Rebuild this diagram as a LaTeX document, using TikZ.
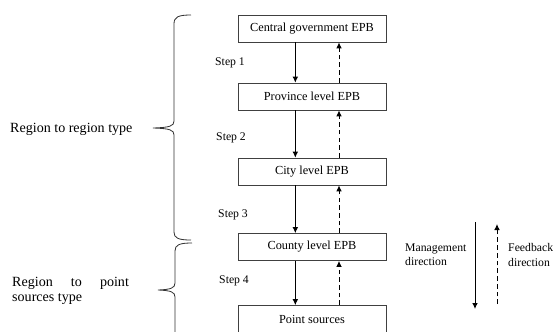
\documentclass[tikz,border=0pt]{standalone}
\usepackage{fontspec}
\setmainfont{Liberation Serif}
\usetikzlibrary{arrows.meta}
\tikzset{
    level/.style={draw=black!75, line width=0.6pt, minimum width=4.44cm, minimum height=0.81cm,
        inner sep=0pt, font=\fontsize{10.5}{12}\selectfont},
    mgmt/.style={line width=0.8pt, -{Latex[length=1.8mm, width=1.7mm]}},
    feedback/.style={line width=0.8pt, dash pattern=on 4pt off 2.6pt, -{Latex[length=1.8mm, width=1.7mm]}},
    steplabel/.style={anchor=west, inner sep=0pt, font=\fontsize{10}{12}\selectfont},
    sidelabel/.style={anchor=west, inner sep=0pt, font=\fontsize{12}{13}\selectfont},
    bracket/.style={line width=0.7pt, black!80},
    common settings/.style={
        x=0.03cm,
        y=-0.03cm
    }
}
\begin{document}
\begin{tikzpicture}[common settings]
    \useasboundingbox (0,0) rectangle (553,331);

    \def\cx{312}   % centre of the level boxes
    \def\sx{-0.5cm}  % shift of the management arrows
    \def\fx{0.81cm}  % shift of the feedback arrows

    % Levels
    \node[level] (central) at (\cx, 28.5) {Central government EPB};
    \node[level] (province) at (\cx, 96.5) {Province level EPB};
    \node[level] (city) at (\cx, 171.5) {City level EPB};
    \node[level] (county) at (\cx, 247) {County level EPB};
    \node[level] (point) at (\cx, 319) {Point sources};

    % Management (down) and feedback (up) between levels
    \foreach \a/\b in {central/province, province/city, city/county, county/point}{
        \draw[mgmt] ([xshift=\sx]\a.south) -- ([xshift=\sx]\b.north);
        \draw[feedback] ([xshift=\fx]\b.north) -- ([xshift=\fx]\a.south);
    }

    % Steps
    \node[steplabel] (s1) at (215, 63) {Step 1};
    \node[steplabel] (s2) at (216, 138) {Step 2};
    \node[steplabel] (s3) at (218, 215) {Step 3};
    \node[steplabel] (s4) at (219, 281) {Step 4};

    % Braces and types
    \draw[bracket] (191,15) .. controls (178,15) and (174,17) .. (174,24) -- (174,121)
        .. controls (174,126) and (170,127.5) .. (153,128)
        .. controls (170,128.5) and (174,130) .. (174,135) -- (174,232)
        .. controls (174,238) and (178,240) .. (191,240);
    \draw[bracket] (192,243) .. controls (179,243) and (175,245) .. (175,251) -- (175,283)
        .. controls (175,288) and (171,289.5) .. (158,290)
        .. controls (171,290.5) and (175,292) .. (175,297) -- (175,340);
    \node[sidelabel] (rr) at (10, 129) {Region to region type};
    \node[sidelabel, text width=3.5cm, align=justify] (rp) at (12, 290.5)
        {Region to point sources type};

    % Legend
    \coordinate (mtop) at (475, 222);
    \coordinate (mbot) at (475, 309);
    \coordinate (ftop) at (497, 224);
    \coordinate (fbot) at (497, 304);
    \draw[mgmt] (mtop) -- (mbot);
    \draw[feedback] (fbot) -- (ftop);
    \node[steplabel, align=left] (mlab) at (405, 255) {Management\\direction};
    \node[steplabel, align=left] (flab) at (508, 255) {Feedback\\direction};

\end{tikzpicture}
\end{document}
